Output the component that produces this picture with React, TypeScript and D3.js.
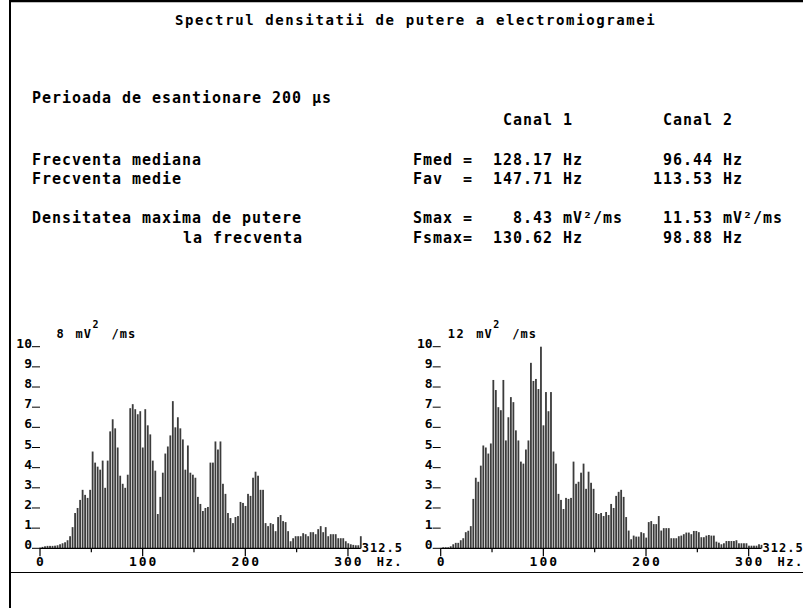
import React from "react";
import * as d3 from "d3";

const title = "Spectrul densitatii de putere a electromiogramei";
const samplingLine = "Perioada de esantionare 200 μs";
const channelHeaders = ["Canal 1", "Canal 2"];
const rowLabels = ["Frecventa mediana", "Frecventa medie", "Densitatea maxima de putere", "la frecventa"];
const rowKeys = ["Fmed =  ", "Fav  =  ", "Smax =  ", "Fsmax=  "];
const canal1Values = ["128.17 Hz", "147.71 Hz", "  8.43 mV²/ms", "130.62 Hz"];
const canal2Values = [" 96.44 Hz", "113.53 Hz", " 11.53 mV²/ms", " 98.88 Hz"];

const freqStep = 5000 / 2048; // Hz per spectral bin (200 µs sampling, 2048 points)
const freqMax = 312.5;
const xTicks = [0, 50, 100, 150, 200, 250, 300];
const xTickLabels = ["0", "", "100", "", "200", "", "300"];
const yTicks = [0, 1, 2, 3, 4, 5, 6, 7, 8, 9, 10];
const unitLabels = ["8", "12"];

const canal1Spectrum = [
  0.03, 0.07, 0.1, 0.12, 0.12, 0.12, 0.13, 0.15, 0.2, 0.25,
  0.3, 0.4, 0.6, 1.05, 1.75, 2.0, 2.4, 2.9, 2.65, 2.5,
  2.9, 4.8, 4.25, 4.05, 3.9, 4.35, 3.0, 4.35, 5.8, 6.4,
  5.95, 5.0, 3.6, 3.2, 3.0, 3.65, 6.95, 7.15, 6.9, 6.65,
  6.8, 5.0, 6.9, 6.1, 5.65, 4.35, 3.85, 1.7, 2.55, 3.75,
  4.7, 5.05, 5.6, 7.3, 6.0, 6.5, 5.95, 5.4, 3.9, 5.1,
  3.75, 3.65, 3.5, 2.55, 2.2, 1.85, 2.0, 2.05, 4.25, 4.25,
  5.3, 4.9, 5.3, 3.2, 2.7, 1.75, 1.5, 1.25, 1.55, 1.6,
  2.3, 2.25, 2.1, 2.7, 2.6, 3.5, 3.8, 3.6, 2.9, 2.9,
  1.25, 1.1, 1.25, 1.2, 0.85, 1.55, 1.65, 1.35, 1.3, 0.85,
  0.35, 0.5, 0.6, 0.6, 0.6, 0.75, 0.7, 0.6, 0.8, 0.8,
  0.7, 0.95, 1.1, 0.8, 1.05, 0.6, 0.7, 0.7, 0.7, 0.5,
  0.5, 0.5, 0.35, 0.25, 0.2, 0.17, 0.15, 0.15, 0.6,
];

const canal2Spectrum = [
  0.02, 0.05, 0.05, 0.05, 0.1, 0.2, 0.27, 0.27, 0.4, 0.5,
  0.8, 0.87, 1.1, 2.45, 3.5, 3.3, 4.1, 5.1, 5.0, 4.7,
  5.2, 8.35, 7.85, 7.0, 6.85, 8.35, 5.35, 6.5, 7.5, 7.25,
  5.85, 5.35, 4.3, 4.2, 4.9, 5.35, 9.2, 8.3, 8.4, 7.9,
  10.0, 6.1, 7.75, 6.8, 7.75, 4.8, 4.2, 2.7, 2.4, 1.95,
  2.5, 2.45, 2.5, 4.3, 3.2, 3.3, 3.75, 4.2, 2.95, 3.8,
  3.25, 2.95, 1.75, 1.7, 1.75, 1.6, 1.8, 1.65, 2.2, 2.0,
  2.6, 2.8, 2.9, 2.55, 1.55, 0.88, 0.45, 0.63, 0.58, 0.58,
  0.8, 0.75, 0.53, 1.3, 1.35, 1.2, 1.2, 1.6, 0.88, 1.0,
  1.0, 1.0, 0.5, 0.5, 0.5, 0.6, 0.63, 0.7, 0.78, 0.78,
  0.7, 0.86, 0.86, 0.8, 0.55, 0.55, 0.63, 0.66, 0.63, 0.63,
  0.33, 0.28, 0.2, 0.25, 0.36, 0.36, 0.36, 0.36, 0.4, 0.25,
  0.25, 0.25, 0.25, 0.13, 0.13, 0.13, 0.13, 0.2, 0.17,
];

const MONO = "'DejaVu Sans Mono', 'Liberation Mono', monospace";

function Spectrum({ x0, values, unit }: { x0: number; values: number[]; unit: string }) {
  const x = d3.scaleLinear().domain([0, freqMax]).range([x0, x0 + 320.8]);
  const y = d3.scaleLinear().domain([0, 10]).range([548.3, 346.7]);
  const bw = 1.8;
  const unitX = x0 + 26 - unit.length * 9.5;
  const mvX = unitX + (unit.length + 1) * 9.5;
  return (
    <g>
      {values.map((v, i) => (
        <rect
          key={i}
          x={x(i * freqStep) - bw / 2}
          y={y(v)}
          width={bw}
          height={Math.max(0, y(0) - y(v))}
          fill="#3c3c3c"
        />
      ))}
      <line x1={x(0)} x2={x(freqMax)} y1={y(0)} y2={y(0)} stroke="#000" strokeWidth={1.3} />
      {yTicks.map((t) => (
        <g key={t}>
          <line x1={x0 - 8} x2={x0} y1={y(t)} y2={y(t)} stroke="#000" strokeWidth={1} />
          <text x={x0 - 8} y={y(t) + 1} textAnchor="end" fontFamily={MONO} fontWeight="bold" fontSize={13}>
            {t}
          </text>
        </g>
      ))}
      {xTicks.map((t, k) => (
        <g key={t}>
          <line
            x1={x(t)}
            x2={x(t)}
            y1={y(0)}
            y2={y(0) + (t % 100 === 0 ? 8 : 4)}
            stroke="#000"
            strokeWidth={1.2}
          />
          {xTickLabels[k] && (
            <text x={x(t) + 1} y={566} textAnchor="middle" fontFamily={MONO} fontWeight="bold" fontSize={13} letterSpacing={2}>
              {xTickLabels[k]}
            </text>
          )}
        </g>
      ))}
      <text x={x(freqMax) + 1} y={y(0) + 4} fontFamily={MONO} fontWeight="bold" fontSize={12} letterSpacing={1}>
        312.5
      </text>
      <text x={x(freqMax) + 16} y={566} fontFamily={MONO} fontWeight="bold" fontSize={12} letterSpacing={1.5}>
        Hz.
      </text>
      <g fontFamily={MONO} fontWeight="bold" fontSize={12}>
        <text x={unitX} y={338} letterSpacing={1.5}>{unit}</text>
        <text x={mvX} y={338} letterSpacing={1}>mV</text>
        <text x={mvX + 17} y={328} fontSize={10}>2</text>
        <text x={mvX + 36} y={338} letterSpacing={1}>/ms</text>
      </g>
    </g>
  );
}

export default function App() {
  const fs = 15;
  const ls = 0.97;
  const rowY = [165, 184, 223, 243];
  return (
    <svg width={803} height={608} style={{ position: "absolute", left: 0, top: 0, background: "#fff" }}>
      <rect x={0} y={0} width={803} height={608} fill="#fff" />
      <line x1={9} x2={803} y1={1} y2={1} stroke="#000" strokeWidth={2.5} />
      <line x1={10} x2={10} y1={0} y2={608} stroke="#000" strokeWidth={2} />
      <line x1={10} x2={803} y1={572.5} y2={572.5} stroke="#000" strokeWidth={1.2} />
      <g fontFamily={MONO} fontWeight="bold" fontSize={fs} letterSpacing={ls} style={{ whiteSpace: "pre" }}>
        <text x={175} y={25} fontSize={14} letterSpacing={1.6}>{title}</text>
        <text x={32} y={103}>{samplingLine}</text>
        <text x={503} y={125}>{channelHeaders[0]}</text>
        <text x={663} y={125}>{channelHeaders[1]}</text>
        <text x={32} y={rowY[0]}>{rowLabels[0]}</text>
        <text x={32} y={rowY[1]}>{rowLabels[1]}</text>
        <text x={32} y={rowY[2]}>{rowLabels[2]}</text>
        <text x={183} y={rowY[3]}>{rowLabels[3]}</text>
        {rowKeys.map((k, i) => (
          <text key={k} x={413} y={rowY[i]} xmlSpace="preserve">{k + canal1Values[i]}</text>
        ))}
        {canal2Values.map((v, i) => (
          <text key={i} x={653} y={rowY[i]} xmlSpace="preserve">{v}</text>
        ))}
      </g>
      <Spectrum x0={40} values={canal1Spectrum} unit={unitLabels[0]} />
      <Spectrum x0={440.7} values={canal2Spectrum} unit={unitLabels[1]} />
    </svg>
  );
}
